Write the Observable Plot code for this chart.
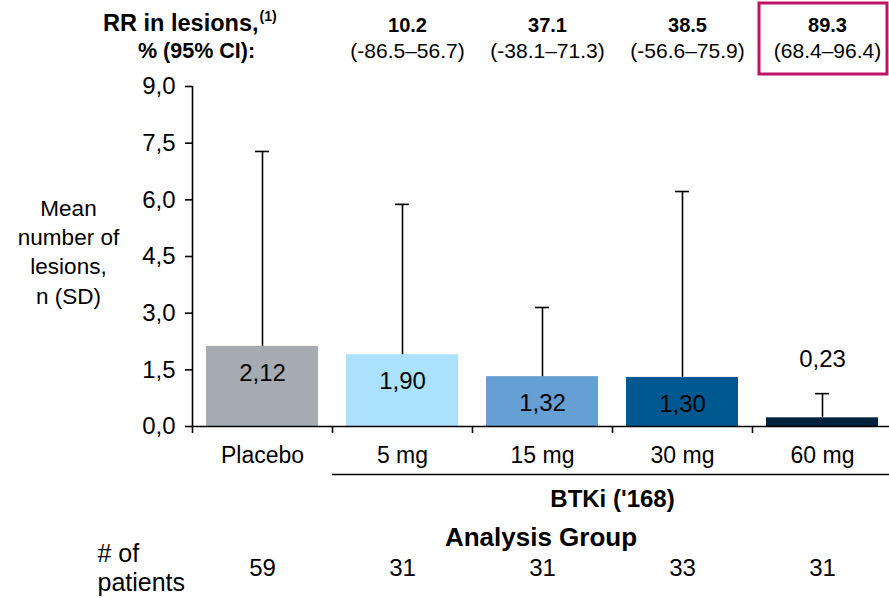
<!DOCTYPE html>
<html>
<head>
<meta charset="utf-8">
<script src="https://cdn.jsdelivr.net/npm/d3@7"></script>
<script src="https://cdn.jsdelivr.net/npm/@observablehq/plot@0.6"></script>
<style>
  html, body { margin: 0; padding: 0; background: #fff; }
</style>
</head>
<body>
<div id="chart"></div>
<script>
// Mean lesion counts by analysis group, with SD (upper bar only)
const groups = ["Placebo", "5 mg", "15 mg", "30 mg", "60 mg"];
const meanLesions = [2.12, 1.90, 1.32, 1.30, 0.23];
const sdLesions = [5.16, 3.98, 1.83, 4.92, 0.64];
const patients = [59, 31, 31, 33, 31];
const barColors = ["#a6abb1", "#abe1fb", "#659fd3", "#005890", "#00223d"];

// Relative reduction in lesions vs placebo
const rrGroups = ["5 mg", "15 mg", "30 mg", "60 mg"];
const rrValues = ["10.2", "37.1", "38.5", "89.3"];
const rrCI = ["(-86.5–56.7)", "(-38.1–71.3)", "(-56.6–75.9)", "(68.4–96.4)"];
const highlighted = ["60 mg"];

const yTicks = [0, 1.5, 3, 4.5, 6, 7.5, 9];
const drugGroups = ["5 mg", "60 mg"];

const W = 889, H = 598;
const mL = 192, mT = 86, mB = 172;
const xRange = [mL, 892];
const bw = (xRange[1] - xRange[0]) / groups.length;
const plotH = H - mT - mB;

const data = groups.map((g, i) => ({group: g, mean: meanLesions[i], sd: sdLesions[i], n: patients[i]}));
const rr = rrGroups.map((g, i) => ({group: g, value: rrValues[i], ci: rrCI[i]}));
const decimal = (v, k) => v.toFixed(k).replace(".", ",");

const chart = Plot.plot({
  width: W,
  height: H,
  marginLeft: mL,
  marginRight: 0,
  marginTop: mT,
  marginBottom: mB,
  style: {fontFamily: "'Liberation Sans', Arial, sans-serif", fontSize: "22px", color: "#000", background: "#fff"},
  x: {domain: groups, range: xRange, padding: 0, axis: null},
  y: {domain: [0, 9], axis: null},
  color: {domain: groups, range: barColors},
  marks: [
    Plot.barY(data, {x: "group", y: "mean", fill: "group", insetLeft: 14, insetRight: 14}),
    // SD whiskers
    Plot.ruleX(data, {x: "group", y1: "mean", y2: d => d.mean + d.sd, stroke: "#000", strokeWidth: 1.6}),
    Plot.tickY(data, {x: "group", y: d => d.mean + d.sd, insetLeft: 63, insetRight: 63, stroke: "#000", strokeWidth: 1.6}),
    // value labels: inside tall bars, above the whisker for short ones
    Plot.text(data.filter(d => d.mean >= 1), {x: "group", y: "mean", text: d => decimal(d.mean, 2), dy: 27, fontSize: 24}),
    Plot.text(data.filter(d => d.mean < 1), {x: "group", y: d => d.mean + d.sd, text: d => decimal(d.mean, 2), dy: -34, fontSize: 24}),
    // axes
    Plot.axisY({ticks: yTicks, tickFormat: d => decimal(d, 1), tickSize: 7, tickPadding: 10, fontSize: 24, strokeWidth: 1.6, label: null}),
    Plot.ruleX([groups[0]], {x: d => d, dx: -bw / 2, stroke: "#000", strokeWidth: 1.6}),
    Plot.ruleY([0], {stroke: "#000", strokeWidth: 1.6}),
    Plot.ruleX(groups, {x: d => d, dx: -bw / 2, insetTop: plotH, insetBottom: -7, stroke: "#000", strokeWidth: 1.6}),
    Plot.text(groups, {x: d => d, text: d => d, frameAnchor: "bottom", lineAnchor: "middle", dy: 29, fontSize: 23}),
    // BTKi bracket and group titles
    Plot.ruleY([drugGroups], {x1: d => d[0], x2: d => d[1], y: 0, dy: 48, stroke: "#000", strokeWidth: 1.6}),
    Plot.text(["BTKi ('168)"], {x: () => "30 mg", dx: -bw / 2, frameAnchor: "bottom", lineAnchor: "middle", dy: 73, fontWeight: "bold", fontSize: 24}),
    Plot.text(["Analysis Group"], {frameAnchor: "bottom", lineAnchor: "middle", dy: 111, fontWeight: "bold", fontSize: 26}),
    // patient counts
    Plot.text(data, {x: "group", text: "n", frameAnchor: "bottom", lineAnchor: "middle", dy: 142, fontSize: 24}),
    Plot.text(["# of\npatients"], {frameAnchor: "bottom-left", lineAnchor: "middle", dx: -95, dy: 141, textAnchor: "start", lineHeight: 1.17, fontSize: 25}),
    // y-axis title
    Plot.text(["Mean\nnumber of\nlesions,\nn (SD)"], {frameAnchor: "left", lineAnchor: "middle", textAnchor: "middle", dx: -124, dy: -6, lineHeight: 1.3, fontSize: 22.5}),
    // relative reduction header
    Plot.text(["RR in lesions,"], {frameAnchor: "top-left", lineAnchor: "middle", dx: 66, dy: -63, textAnchor: "end", fontWeight: "bold", fontSize: 23.5}),
    Plot.text(["(1)"], {frameAnchor: "top-left", lineAnchor: "middle", dx: 67, dy: -70, textAnchor: "start", fontWeight: "bold", fontSize: 14}),
    Plot.text(["% (95% CI):"], {frameAnchor: "top-left", lineAnchor: "middle", dx: 4, dy: -35, textAnchor: "middle", fontWeight: "bold", fontSize: 21.5}),
    Plot.text(rr, {x: "group", text: "value", frameAnchor: "top", lineAnchor: "middle", dx: 5, dy: -61, fontWeight: "bold", fontSize: 20}),
    Plot.text(rr, {x: "group", text: "ci", frameAnchor: "top", lineAnchor: "middle", dx: 5, dy: -35, fontSize: 21}),
    Plot.cell(highlighted, {x: d => d, fill: "none", stroke: "#c1126b", strokeWidth: 3, insetLeft: 7, insetRight: 5, insetTop: -83, insetBottom: plotH + 12})
  ]
});
document.getElementById("chart").append(chart);
</script>
</body>
</html>
